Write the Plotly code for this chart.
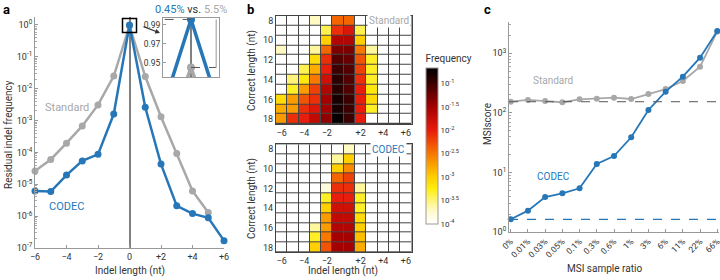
import plotly.graph_objects as go

W, H = 720, 280
FONT = "Roboto, 'Open Sans', sans-serif"
BLUE = "#2777b8"
GRAY = "#a8a8a8"
TXT = "#333333"

# ---------------- panel a data ----------------
indel_len = [-6, -5, -4, -3, -2, -1, 0, 1, 2, 3, 4, 5, 6]
indel_tickvals = [-6, -4, -2, 0, 2, 4, 6]
indel_ticktext = ["−6", "−4", "−2", "0", "+2", "+4", "+6"]
standard_freq = [2.6e-5, 6.0e-5, 1.95e-4, 6.8e-4, 3.1e-3, 2.5e-2, 0.945,
                 2.4e-2, 1.32e-3, 9.3e-5, 6.2e-6, 1.3e-6, None]
codec_freq = [6.2e-6, 5.9e-6, 1.95e-5, 5.4e-5, 8.7e-5, 1.6e-3, 0.9955,
              2.6e-3, 4.3e-5, 2.1e-6, 1.2e-6, 8.9e-7, 1.7e-7]
freq_exps = [0, -1, -2, -3, -4, -5, -6, -7]
inset_ticks = [0.99, 0.97, 0.95]

# ---------------- panel b data (log10 frequency, None = blank) ----------------
heat_cols = ["−6", "−5", "−4", "−3", "−2", "−1", "+1", "+2", "+3", "+4", "+5", "+6"]
heat_col_ticks = ["−6", "−4", "−2", "+2", "+4", "+6"]
correct_len = [8, 9, 10, 11, 12, 13, 14, 15, 16, 17, 18]
correct_ticks = [8, 10, 12, 14, 16, 18]
N = None
standard_log = [
    [N, N, N, -3.7, N, -2.4, -2.4, N, N, N, N, N],
    [N, N, N, N, -3.4, -2.1, -1.9, -3.4, N, N, N, N],
    [N, N, N, N, -3.0, -1.6, -1.6, -3.0, N, N, N, N],
    [-3.7, N, N, -3.6, -2.4, -1.3, -1.3, -2.5, -3.6, N, N, N],
    [N, N, N, -3.1, -2.1, -1.1, -1.2, -2.3, -3.3, N, N, N],
    [N, N, -3.4, -2.8, -2.0, -1.0, -1.1, -2.2, -3.3, N, N, N],
    [N, -3.5, -3.2, -2.5, -1.8, -0.9, -1.1, -2.1, -3.3, N, N, N],
    [N, -3.3, -2.7, -2.2, -1.6, -0.9, -1.1, -2.0, -3.2, N, N, N],
    [-3.1, -2.7, -2.3, -2.1, -1.5, -0.8, -1.0, -2.0, -3.1, N, N, N],
    [-2.8, -2.7, -2.1, -1.9, -1.5, -0.8, -1.0, -2.0, -3.3, N, N, N],
    [-2.7, -2.1, -2.0, -1.7, -1.4, -0.7, -1.0, -2.0, N, N, N, N],
]
codec_log = [
    [N, N, N, N, N, N, -3.7, N, N, N, N, N],
    [N, N, N, N, N, -3.6, -3.0, N, N, N, N, N],
    [N, N, N, N, N, -3.0, -2.6, N, N, N, N, N],
    [N, N, N, N, N, -2.4, -2.2, N, N, N, N, N],
    [N, N, N, N, -3.8, -2.1, -2.1, -3.6, N, N, N, N],
    [N, N, N, N, -3.3, -2.0, -2.0, -3.3, N, N, N, N],
    [N, N, N, N, -3.0, -1.8, -1.8, -3.3, N, N, N, N],
    [N, N, N, N, -2.7, -1.7, -1.7, -3.1, N, N, N, N],
    [N, N, N, -3.6, -2.7, -1.6, -1.6, -3.0, N, N, N, N],
    [N, N, N, -3.3, -2.5, -1.5, -1.5, -2.9, N, N, N, N],
    [N, N, N, -3.0, -2.3, -1.5, -1.5, -2.8, N, N, N, N],
]
cbar_vals = [-4, -3.5, -3, -2.5, -2, -1.5, -1]
cbar_text = ["10<sup>-4</sup>", "10<sup>-3.5</sup>", "10<sup>-3</sup>", "10<sup>-2.5</sup>",
             "10<sup>-2</sup>", "10<sup>-1.5</sup>", "10<sup>-1</sup>"]
ZMIN, ZMAX = -4.0, -0.66

# ---------------- panel c data ----------------
msi_ratio = ["0%", "0.01%", "0.03%", "0.05%", "0.1%", "0.3%", "0.6%",
             "1%", "3%", "6%", "11%", "22%", "66%"]
standard_msi = [154, 165, 158, 151, 169, 173, 180, 171, 207, 251, 343, 596, 2303]
codec_msi = [1.64, 2.29, 3.88, 4.47, 5.43, 13.9, 18.9, 39, 112, 227, 405, 844, 2366]
msi_exps = [0, 1, 2, 3]


def xd(a, b):
    return [a / W, b / W]


def yd(top, bottom):
    return [1 - bottom / H, 1 - top / H]


def fill_blank(m):
    return [[ZMIN if v is None else v for v in row] for row in m]


fig = go.Figure()

# ---- panel a main
fig.add_trace(go.Scatter(x=indel_len, y=standard_freq, mode="lines+markers",
                         line=dict(color=GRAY, width=2.5), marker=dict(color=GRAY, size=7),
                         cliponaxis=False, xaxis="x", yaxis="y", showlegend=False))
fig.add_trace(go.Scatter(x=indel_len, y=codec_freq, mode="lines+markers",
                         line=dict(color=BLUE, width=2.5), marker=dict(color=BLUE, size=7),
                         cliponaxis=False, xaxis="x", yaxis="y", showlegend=False))
# box around the peak
peak_mid = (standard_freq[6] * codec_freq[6]) ** 0.5
fig.add_trace(go.Scatter(x=[indel_len[6]], y=[peak_mid], mode="markers",
                         marker=dict(symbol="square-open", size=14, color="black",
                                     line=dict(width=1.5, color="black")),
                         cliponaxis=False, xaxis="x", yaxis="y", showlegend=False))

# ---- inset
fig.add_trace(go.Scatter(x=indel_len[5:8], y=standard_freq[5:8], mode="lines+markers",
                         line=dict(color=GRAY, width=3.5), marker=dict(color=GRAY, size=8),
                         xaxis="x2", yaxis="y2", showlegend=False))
fig.add_trace(go.Scatter(x=indel_len[5:8], y=codec_freq[5:8], mode="lines+markers",
                         line=dict(color=BLUE, width=3.5), marker=dict(color=BLUE, size=8),
                         xaxis="x2", yaxis="y2", showlegend=False))

# ---- heatmaps
fig.add_trace(go.Heatmap(z=fill_blank(standard_log), x=heat_cols, y=correct_len,
                         coloraxis="coloraxis", xgap=1, ygap=1, xaxis="x3", yaxis="y3",
                         hoverinfo="skip"))
fig.add_trace(go.Heatmap(z=fill_blank(codec_log), x=heat_cols, y=correct_len,
                         coloraxis="coloraxis", xgap=1, ygap=1, xaxis="x4", yaxis="y4",
                         hoverinfo="skip"))

# ---- panel c
fig.add_trace(go.Scatter(x=msi_ratio, y=standard_msi, mode="lines+markers",
                         line=dict(color=GRAY, width=1.8), marker=dict(color=GRAY, size=6),
                         cliponaxis=False, xaxis="x5", yaxis="y5", showlegend=False))
fig.add_trace(go.Scatter(x=msi_ratio, y=codec_msi, mode="lines+markers",
                         line=dict(color=BLUE, width=1.8), marker=dict(color=BLUE, size=6),
                         cliponaxis=False, xaxis="x5", yaxis="y5", showlegend=False))

tickfont = dict(size=9, color=TXT, family=FONT)
freq_minor = [k * 10.0 ** d for d in range(-7, 0) for k in range(2, 10)]
msi_minor = [k * 10.0 ** d for d in range(0, 4) for k in range(2, 10)]

colorscale = [
    [0.0, "#ffffff"], [0.075, "#fffbd2"], [0.15, "#fff47a"], [0.225, "#ffee10"],
    [0.30, "#ffcf00"], [0.45, "#f77800"], [0.60, "#e81c0c"], [0.75, "#a40000"],
    [0.90, "#3c0000"], [1.0, "#000000"],
]

fig.update_layout(
    width=W, height=H, margin=dict(l=0, r=0, t=0, b=0, autoexpand=False),
    paper_bgcolor="white", plot_bgcolor="white",
    font=dict(family=FONT, color=TXT, size=10),
    showlegend=False,
    xaxis=dict(domain=xd(35, 224), range=[-6, 6], anchor="y",
               tickvals=indel_tickvals, ticktext=indel_ticktext, tickfont=tickfont,
               showline=True, linecolor="#999", linewidth=1, ticks="inside", ticklen=3,
               tickcolor="#999", showgrid=False,
               zeroline=True, zerolinecolor="#808080", zerolinewidth=1.5),
    yaxis=dict(domain=yd(17, 248), type="log", range=[-7, 0.25], anchor="x",
               tickvals=[10.0 ** e for e in freq_exps],
               ticktext=["10<sup>%d</sup>" % e for e in freq_exps], tickfont=tickfont,
               showline=True, linecolor="#999", linewidth=1, ticks="inside", ticklen=3,
               tickcolor="#999", showgrid=False, zeroline=False,
               minor=dict(tickvals=freq_minor, ticks="inside", ticklen=2, tickcolor="#aaa",
                          showgrid=False)),
    xaxis2=dict(domain=xd(163, 219), range=[-0.093, 0.093], anchor="y2",
                showticklabels=False, ticks="", showgrid=False,
                showline=True, mirror=True, linecolor="#999", linewidth=1,
                zeroline=True, zerolinecolor="#808080", zerolinewidth=1.5),
    yaxis2=dict(domain=yd(18, 77), range=[0.935, 0.997], anchor="x2",
                tickvals=inset_ticks, ticktext=["%.2f" % v for v in inset_ticks],
                tickfont=dict(size=8.5, color=TXT, family=FONT), ticks="inside", ticklen=3,
                tickcolor="#999", showgrid=False, zeroline=False,
                showline=True, mirror=True, linecolor="#999", linewidth=1),
    xaxis3=dict(domain=xd(276, 411.5), anchor="y3", type="category",
                range=[-0.5, 11.5], tickvals=heat_col_ticks, tickfont=tickfont,
                ticks="", showgrid=False, zeroline=False,
                showline=True, mirror=True, linecolor="#444", linewidth=1),
    yaxis3=dict(domain=yd(15.7, 124), anchor="x3", range=[18.5, 7.5],
                tickvals=correct_ticks, tickfont=tickfont, ticks="", showgrid=False,
                zeroline=False, showline=True, mirror=True, linecolor="#444", linewidth=1),
    xaxis4=dict(domain=xd(276, 411.5), anchor="y4", type="category",
                range=[-0.5, 11.5], tickvals=heat_col_ticks, tickfont=tickfont,
                ticks="", showgrid=False, zeroline=False,
                showline=True, mirror=True, linecolor="#444", linewidth=1),
    yaxis4=dict(domain=yd(144.3, 252.3), anchor="x4", range=[18.5, 7.5],
                tickvals=correct_ticks, tickfont=tickfont, ticks="", showgrid=False,
                zeroline=False, showline=True, mirror=True, linecolor="#444", linewidth=1),
    xaxis5=dict(domain=xd(509, 719), anchor="y5", type="category", range=[-0.1, 12.1],
                tickangle=-45, tickfont=dict(size=8.5, color=TXT, family=FONT),
                showline=True, linecolor="#999", linewidth=1, ticks="inside", ticklen=3,
                tickcolor="#999", showgrid=False, zeroline=False),
    yaxis5=dict(domain=yd(21.7, 232.1), anchor="x5", type="log", range=[0, 3.53],
                tickvals=[10.0 ** e for e in msi_exps],
                ticktext=["10<sup>%d</sup>" % e for e in msi_exps], tickfont=tickfont,
                showline=True, linecolor="#999", linewidth=1, ticks="inside", ticklen=3,
                tickcolor="#999", showgrid=False, zeroline=False,
                minor=dict(tickvals=msi_minor, ticks="inside", ticklen=2, tickcolor="#aaa",
                           showgrid=False)),
    coloraxis=dict(colorscale=colorscale, cmin=ZMIN, cmax=ZMAX,
                   colorbar=dict(x=426 / W, xanchor="left", xpad=0,
                                 y=1 - 51.7 / H, yanchor="top", ypad=0,
                                 thickness=12, lenmode="pixels", len=172,
                                 outlinewidth=1, outlinecolor="#999",
                                 tickvals=cbar_vals, ticktext=cbar_text, ticks="",
                                 tickfont=dict(size=8, color=TXT, family=FONT),
                                 title=dict(text="Frequency", side="top",
                                            font=dict(size=10, color=TXT, family=FONT)))),
)

# grid background for heatmaps (shows through gaps)
for ax in ["x3", "x4"]:
    yax = "y3" if ax == "x3" else "y4"
    fig.add_shape(type="rect", xref=ax + " domain", yref=yax + " domain",
                  x0=0, x1=1, y0=0, y1=1, fillcolor="#444", line=dict(width=0), layer="below")

# dashed baselines in panel c
fig.add_shape(type="line", xref="x5 domain", yref="y5", x0=0, x1=1,
              y0=standard_msi[0], y1=standard_msi[0],
              line=dict(color="#555", width=1, dash="dash"))
fig.add_shape(type="line", xref="x5 domain", yref="y5", x0=0, x1=1,
              y0=codec_msi[0], y1=codec_msi[0],
              line=dict(color=BLUE, width=1.2, dash="dash"))

# inset dashed guides
fig.add_shape(type="line", xref="x2 domain", yref="y2", x0=0.03, x1=0.5,
              y0=codec_freq[6], y1=codec_freq[6], line=dict(color="#555", width=1, dash="dash"))
fig.add_shape(type="line", xref="x2 domain", yref="y2", x0=0.5, x1=0.95,
              y0=standard_freq[6], y1=standard_freq[6], line=dict(color="#555", width=1, dash="dash"))
fig.add_shape(type="line", xref="x2 domain", yref="y2", x0=0.95, x1=0.95,
              y0=codec_freq[6], y1=standard_freq[6], line=dict(color=GRAY, width=1.2))

ann = []


def P(x, y, text, size=10, color=TXT, **kw):
    d = dict(x=x / W, y=1 - y / H, xref="paper", yref="paper", text=text, showarrow=False,
             xanchor="center", yanchor="middle",
             font=dict(size=size, color=color, family=FONT))
    d.update(kw)
    ann.append(d)


# panel letters
P(6, 9, "<b>a</b>", size=13, color="black")
P(250, 9, "<b>b</b>", size=13, color="black")
P(487, 9, "<b>c</b>", size=13, color="black")

# axis titles
P(8, 135, "Residual indel frequency", size=10, textangle=-90)
P(130, 271, "Indel length (nt)", size=10)
P(252, 70, "Correct length (nt)", size=10, textangle=-90)
P(252, 198, "Correct length (nt)", size=10, textangle=-90)
P(343, 271, "Indel length (nt)", size=10)
P(487, 124, "MSIscore", size=10, textangle=-90)
P(604, 268, "MSI sample ratio", size=10)

# inset title
P(191, 10, '<span style="color:%s">0.45%%</span> vs. <span style="color:%s">5.5%%</span>'
  % (BLUE, GRAY), size=11)

# arrow from box to inset
ann.append(dict(x=160 / W, y=1 - 33 / H, xref="paper", yref="paper", ax=-18, ay=-7,
                showarrow=True, arrowhead=2, arrowsize=0.8, arrowwidth=1.2,
                arrowcolor="#333", text="", standoff=0))

# series labels
ann.append(dict(x=-4.0, y=-2.6, xref="x", yref="y", text="Standard", showarrow=False,
                font=dict(size=11, color=GRAY, family=FONT)))
ann.append(dict(x=-4.0, y=-5.7, xref="x", yref="y", text="CODEC", showarrow=False,
                font=dict(size=11, color=BLUE, family=FONT)))
ann.append(dict(x=9.5, y=8, xref="x3", yref="y3", text="Standard", showarrow=False,
                bgcolor="white", font=dict(size=10, color=GRAY, family=FONT)))
ann.append(dict(x=9.5, y=8, xref="x4", yref="y4", text="CODEC", showarrow=False,
                bgcolor="white", font=dict(size=10, color=BLUE, family=FONT)))
ann.append(dict(x=2.45, y=2.55, xref="x5", yref="y5", text="Standard", showarrow=False,
                font=dict(size=10, color=GRAY, family=FONT)))
ann.append(dict(x=2.5, y=0.94, xref="x5", yref="y5", text="CODEC", showarrow=False,
                font=dict(size=10, color=BLUE, family=FONT)))

fig.update_layout(annotations=ann)
fig.write_html("out.html", config={"displayModeBar": False},
               post_script="document.body.style.margin='0';document.body.style.overflow='hidden';")
